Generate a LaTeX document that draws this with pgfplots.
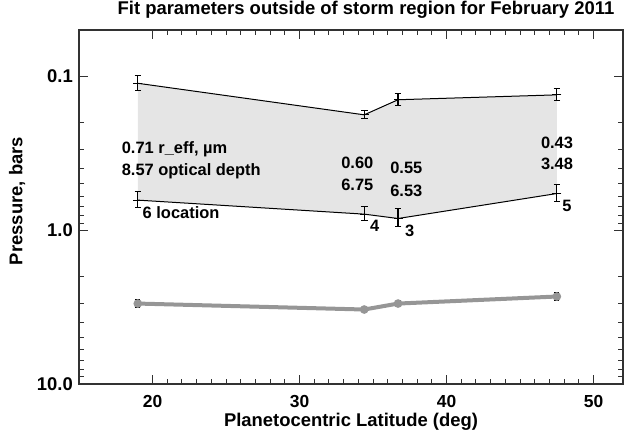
\documentclass[border=0pt]{standalone}
\usepackage{fontspec}
\setmainfont{Liberation Sans}
\usepackage{pgfplots}
\pgfplotsset{compat=1.18}
\definecolor{fillgray}{RGB}{229,229,229}
\definecolor{linegray}{RGB}{150,150,150}
\definecolor{axisgray}{RGB}{50,50,50}
\begin{document}
\begin{tikzpicture}
\useasboundingbox (-79bp,-47bp) rectangle (545bp,384bp);
\begin{axis}[
  scale only axis, width=544bp, height=354bp,
  xmin=15, xmax=52,
  ymode=log, ymin=0.05, ymax=10, y dir=reverse,
  xtick={20,30,40,50}, xticklabels={20,30,40,50},
  minor x tick num=9,
  ytick={0.1,1,10}, yticklabels={0.1,1.0,10.0},
  axis line style={axisgray, line width=1.2bp},
  every tick/.style={axisgray, line width=1bp},
  major tick length=9bp, minor tick length=5bp,
  tick align=inside,
  xticklabel style={font=\fontsize{17.5}{19}\selectfont\bfseries, anchor=base, inner sep=0pt, yshift=-23bp},
  yticklabel style={font=\fontsize{18.5}{20}\selectfont\bfseries, anchor=east, inner sep=0pt, xshift=-6bp},
  xlabel={Planetocentric Latitude (deg)},
  xlabel style={at={(axis description cs:0.5,0)}, anchor=base, inner sep=0pt, yshift=-42.7bp, font=\fontsize{18.5}{20}\selectfont\bfseries},
  ylabel={Pressure, bars},
  ylabel style={at={(axis description cs:0,0.5)}, anchor=center, inner sep=0pt, xshift=6bp, yshift=62bp, font=\fontsize{18.5}{20}\selectfont\bfseries},
  title={Fit parameters outside of storm region for February 2011},
  title style={at={(axis description cs:0,1)}, anchor=south, inner sep=0pt, xshift=287bp, yshift=5.4bp, font=\fontsize{18.5}{20}\selectfont\bfseries},
  clip=false,
]
% shaded region between upper and lower boundaries
\addplot[fill=fillgray, draw=none, forget plot] coordinates {
  (19.0,0.111) (34.4,0.178) (36.7,0.142) (47.5,0.132)
  (47.5,0.578) (36.7,0.840) (34.4,0.787) (19.0,0.638)
} -- cycle;
% upper boundary
\addplot[black, line width=1bp, mark=-, mark size=4.5bp, mark options={line width=1.2bp},
  error bars/.cd, y dir=both, y explicit,
  error mark options={rotate=90, mark size=3.3bp, line width=1bp},
  error bar style={line width=1.2bp}]
  coordinates {
  (19.0,0.111) +- (0,0.0125)
  (34.4,0.178) +- (0,0.0107)
  (36.7,0.142) +- (0,0.0128)
  (47.5,0.132) +- (0,0.0119)
};
% lower boundary
\addplot[black, line width=1bp, mark=-, mark size=4.5bp, mark options={line width=1.2bp},
  error bars/.cd, y dir=both, y explicit,
  error mark options={rotate=90, mark size=3.3bp, line width=1bp},
  error bar style={line width=1.2bp}]
  coordinates {
  (19.0,0.638) +- (0,0.077)
  (34.4,0.787) +- (0,0.083)
  (36.7,0.840) +- (0,0.113)
  (47.5,0.578) +- (0,0.074)
};
% gray line
\addplot[linegray, line width=4bp, mark=*, mark size=2.2bp, mark options={linegray},
  error bars/.cd, y dir=both, y explicit,
  error mark options={rotate=90, mark size=2.5bp, black, line width=1bp},
  error bar style={black, line width=1.2bp}]
  coordinates {
  (19.0,3.00) +- (0,0.16)
  (34.4,3.28) +- (0,0.10)
  (36.7,3.00) +- (0,0.14)
  (47.5,2.70) +- (0,0.16)
};
% annotations
\begin{scope}[every node/.style={font=\fontsize{16.5}{18}\selectfont\bfseries, inner sep=0pt, anchor=base west}]
\node at (axis cs:17.90,0.3195) {0.71 r\_eff, µm};
\node at (axis cs:17.90,0.4444) {8.57 optical depth};
\node at (axis cs:19.32,0.839) {6 location};
\node at (axis cs:32.83,0.3966) {0.60};
\node at (axis cs:32.83,0.5565) {6.75};
\node at (axis cs:36.16,0.4274) {0.55};
\node at (axis cs:36.16,0.600) {6.53};
\node at (axis cs:46.41,0.2938) {0.43};
\node at (axis cs:46.41,0.406) {3.48};
\node at (axis cs:34.78,1.024) {4};
\node at (axis cs:37.16,1.104) {3};
\node at (axis cs:47.86,0.751) {5};
\end{scope}
\end{axis}
\end{tikzpicture}
\end{document}
